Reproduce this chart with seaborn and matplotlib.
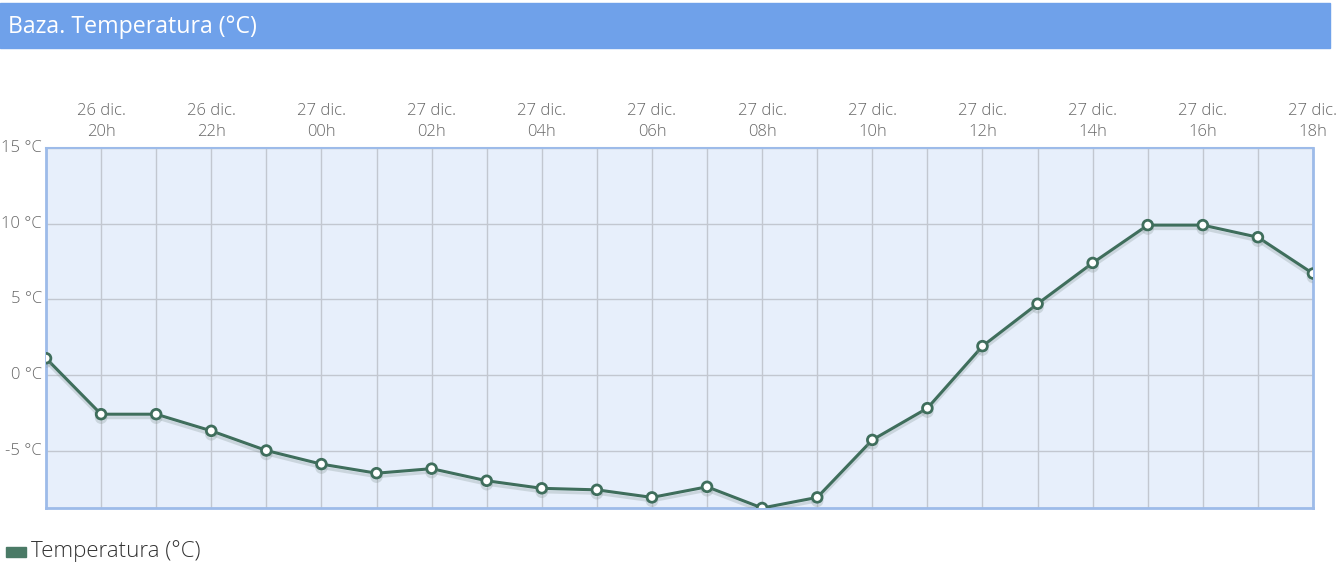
import numpy as np
import pandas as pd
import matplotlib
matplotlib.use("Agg")
import matplotlib.pyplot as plt
import matplotlib.patheffects as pe
import seaborn as sns

# ── Datos (horario, 26 dic. 19h → 27 dic. 18h) ──────────────────────────────
hours = list(range(24))
temps = [1.1, -2.6, -2.6, -3.7, -5.0, -5.9, -6.5, -6.2, -7.0, -7.5, -7.6, -8.1,
         -7.4, -8.8, -8.1, -4.3, -2.2, 1.9, 4.7, 7.4, 9.9, 9.9, 9.1, 6.7]
tick_pos = [1, 3, 5, 7, 9, 11, 13, 15, 17, 19, 21, 23]
tick_labels = ["26 dic.\n20h", "26 dic.\n22h", "27 dic.\n00h", "27 dic.\n02h",
               "27 dic.\n04h", "27 dic.\n06h", "27 dic.\n08h", "27 dic.\n10h",
               "27 dic.\n12h", "27 dic.\n14h", "27 dic.\n16h", "27 dic.\n18h"]
y_ticks = [-5, 0, 5, 10, 15]

LINE = "#3f6e5c"
FONT = ["Open Sans", "DejaVu Sans"]

sns.set_theme(style="white")
plt.rcParams["font.family"] = FONT

df = pd.DataFrame({"hora": hours, "temp": temps})

fig = plt.figure(figsize=(13.38, 5.65), dpi=100)

# cabecera
fig.patches.append(plt.Rectangle((0, 1 - 48 / 565), 1330 / 1338, 45 / 565,
                                 transform=fig.transFigure, color="#6fa1ea",
                                 zorder=0))
fig.text(8 / 1338, 1 - 27 / 565, "Baza. Temperatura (°C)", color="white",
         fontsize=16.7, va="center", ha="left")

ax = fig.add_axes([46 / 1338, 57 / 565, 1267 / 1338, 360 / 565])
ax.set_facecolor("#e7effb")

sns.lineplot(data=df, x="hora", y="temp", ax=ax, color=LINE, linewidth=2.2,
             marker="o", markersize=7, markerfacecolor="white",
             markeredgecolor=LINE, markeredgewidth=2, zorder=5,
             path_effects=[pe.SimpleLineShadow(offset=(0, -2.5), shadow_color="#8a9a9a",
                                               alpha=0.3), pe.Normal()])

ax.set_xlim(0, 23)
ax.set_ylim(-8.8, 15)
ax.set_xticks(hours, minor=True)
ax.set_xticks(tick_pos)
ax.set_xticklabels(tick_labels, color="#666666", fontsize=12, linespacing=1.4,
                   fontweight="light")
ax.xaxis.tick_top()
ax.set_yticks(y_ticks)
ax.set_yticklabels([f"{v} °C" for v in y_ticks], color="#666666", fontsize=12,
                   fontweight="light")
ax.tick_params(axis="both", which="both", length=0, pad=3)
ax.tick_params(axis="x", pad=6)
ax.grid(True, which="both", axis="x", color="#c2c7d0", linewidth=1)
ax.grid(True, which="major", axis="y", color="#c2c7d0", linewidth=1)
ax.set_xlabel("")
ax.set_ylabel("")
for s in ax.spines.values():
    s.set_visible(True)
    s.set_color("#9dbbe9")
    s.set_linewidth(2)
ax.spines["top"].set_linewidth(1.5)
for lbl in ax.get_yticklabels():
    lbl.set_verticalalignment("center")

# leyenda
fig.patches.append(plt.Rectangle((6 / 1338, 1 - 557 / 565), 20 / 1338, 10 / 565,
                                 transform=fig.transFigure, color="#4a7a66"))
fig.text(31 / 1338, 1 - 551 / 565, "Temperatura (°C)", color="#333333",
         fontsize=16, va="center", ha="left", fontweight="light")

fig.savefig("out.png", dpi=100)
